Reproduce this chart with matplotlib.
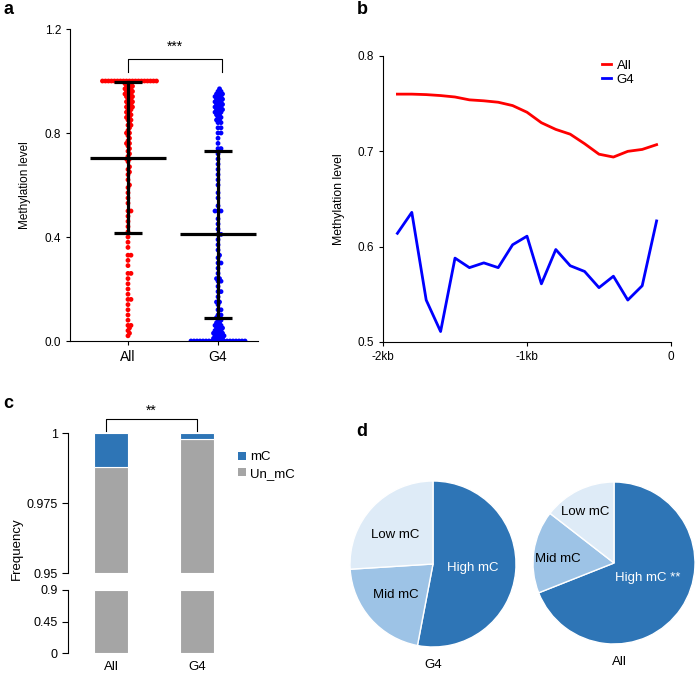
import numpy as np
import matplotlib
matplotlib.use("Agg")
import matplotlib.pyplot as plt
from matplotlib.patches import Patch

plt.rcParams['font.family'] = ['Liberation Sans', 'DejaVu Sans']
plt.rcParams['font.size'] = 9

# ---------------- data ----------------
# panel a : per-site methylation levels
all_vals = ([1.0] * 19 + [0.99] * 3 + [0.98] * 3 + [0.97] * 3 + [0.96] * 3 + [0.95] * 3 +
            [0.94] * 3 + [0.93] * 2 + [0.92] * 3 + [0.91] * 2 + [0.90] * 3 + [0.89] * 2 +
            [0.88] * 2 + [0.87] * 2 + [0.86] * 2 + [0.85] * 2 + [0.84, 0.83, 0.83, 0.82, 0.81,
            0.80, 0.80, 0.79, 0.78, 0.77, 0.76, 0.76, 0.75, 0.74, 0.73, 0.72, 0.71, 0.70, 0.70,
            0.69, 0.67, 0.66, 0.65, 0.64, 0.62, 0.60, 0.59, 0.57, 0.55, 0.53, 0.50, 0.50, 0.48,
            0.46, 0.44, 0.42, 0.40, 0.38, 0.36, 0.33, 0.33, 0.31, 0.29, 0.26, 0.26, 0.24, 0.22,
            0.20, 0.18, 0.16, 0.16, 0.14, 0.12, 0.10, 0.08, 0.06, 0.06, 0.05, 0.04, 0.03, 0.02])
g4_vals = ([0.0] * 19 + [0.01] * 4 + [0.02] * 4 + [0.03] * 4 + [0.04] * 3 + [0.05] * 3 +
           [0.06] * 3 + [0.07] * 2 + [0.08] * 2 + [0.09] * 2 + [0.10] * 2 + [0.12, 0.12, 0.14,
           0.15, 0.15, 0.17, 0.19, 0.19, 0.21, 0.23, 0.23, 0.24, 0.24, 0.26, 0.28, 0.30, 0.30,
           0.32, 0.33, 0.35, 0.37, 0.39, 0.41, 0.41, 0.43, 0.45, 0.47, 0.50, 0.50, 0.50, 0.52,
           0.55, 0.57, 0.60, 0.62, 0.64, 0.66, 0.68, 0.70, 0.72, 0.74, 0.74, 0.76, 0.78, 0.80,
           0.80, 0.82, 0.82, 0.84, 0.84] + [0.85] * 2 + [0.86] * 2 + [0.87] * 2 + [0.88] * 3 +
           [0.89] * 3 + [0.90] * 3 + [0.91] * 3 + [0.92] * 3 + [0.93] * 3 + [0.94] * 3 +
           [0.95] * 3 + [0.96] * 2 + [0.97])
a_categories = ['All', 'G4']
a_means = [0.705, 0.41]
a_sd = [0.29, 0.32]

# panel b : methylation profile upstream
b_pos_kb = [-1.9, -1.8, -1.7, -1.6, -1.5, -1.4, -1.3, -1.2, -1.1, -1.0,
            -0.9, -0.8, -0.7, -0.6, -0.5, -0.4, -0.3, -0.2, -0.1]
b_all = [0.760, 0.760, 0.7595, 0.7585, 0.757, 0.754, 0.753, 0.7515, 0.748, 0.741,
         0.730, 0.723, 0.718, 0.708, 0.697, 0.694, 0.700, 0.702, 0.707]
b_g4 = [0.614, 0.636, 0.544, 0.511, 0.588, 0.578, 0.583, 0.578, 0.602, 0.611,
        0.561, 0.597, 0.580, 0.574, 0.557, 0.569, 0.544, 0.559, 0.627]

# panel c : frequency
c_categories = ['All', 'G4']
c_unmc = [0.988, 0.998]
c_mc = [0.012, 0.002]

# panel d : pies
d_labels = ['High mC', 'Mid mC', 'Low mC']
d_g4 = [0.53, 0.21, 0.26]
d_all = [0.69, 0.165, 0.145]

W, H = 698, 674
fig = plt.figure(figsize=(W / 100, H / 100), dpi=100)


def rect(l, t, r, b):
    return [l / W, 1 - b / H, (r - l) / W, (b - t) / H]


def swarm(vals, d=3.0, ypx=260.0, xpx=90.0):
    vals = np.asarray(vals, float)
    order = np.argsort(vals, kind='stable')
    placed = []
    offs = np.zeros(len(vals))
    cands = [0.0]
    for j in range(1, 200):
        cands += [j * 0.5, -j * 0.5]
    for i in order:
        y = vals[i] * ypx
        for c in cands:
            ok = True
            for (px, py) in placed:
                if (px - c) ** 2 + (py - y) ** 2 < d * d:
                    ok = False
                    break
            if ok:
                placed.append((c, y))
                offs[i] = c / xpx
                break
    return offs


# ---------------- panel a ----------------
axa = fig.add_axes(rect(70, 29, 258, 341))
for k, (vals, col) in enumerate([(all_vals, '#FF0000'), (g4_vals, '#0000FF')]):
    offs = swarm(vals)
    axa.scatter(k + offs, vals, s=12, color=col, edgecolors='none', zorder=2)
    m, sd = a_means[k], a_sd[k]
    axa.plot([k - 0.42, k + 0.42], [m, m], color='black', lw=2.3, zorder=3, solid_capstyle='butt')
    axa.plot([k, k], [m - sd, min(m + sd, 1.2)], color='black', lw=2.3, zorder=3)
    for yv in (m - sd, m + sd):
        axa.plot([k - 0.16, k + 0.16], [yv, yv], color='black', lw=2.3, zorder=3, solid_capstyle='butt')
axa.set_xlim(-0.644, 1.444)
axa.set_ylim(0, 1.2)
axa.set_yticks([0, 0.4, 0.8, 1.2])
axa.set_yticklabels(['0.0', '0.4', '0.8', '1.2'], fontsize=8.5)
axa.set_xticks([0, 1])
axa.set_xticklabels(a_categories, fontsize=10)
axa.set_ylabel('Methylation level', fontsize=8.5, labelpad=10)
for s in ('top', 'right'):
    axa.spines[s].set_visible(False)
axa.tick_params(direction='out', length=3, width=0.8)
axa.plot([0, 0, 1.04, 1.04], [1.035, 1.085, 1.085, 1.035], color='black', lw=0.8, clip_on=False)
axa.text(0.52, 1.13, '***', ha='center', va='center', fontsize=10)

# ---------------- panel b ----------------
axb = fig.add_axes(rect(383, 56, 671, 342))
axb.plot(b_pos_kb, b_all, color='#FF0000', lw=2.0, label='All')
axb.plot(b_pos_kb, b_g4, color='#0000FF', lw=2.0, label='G4')
axb.set_xlim(-2, 0)
axb.set_ylim(0.5, 0.8)
axb.set_yticks([0.5, 0.6, 0.7, 0.8])
axb.set_xticks([-2, -1, 0])
axb.set_xticklabels(['-2kb', '-1kb', '0'])
axb.tick_params(labelsize=8.5)
axb.set_ylabel('Methylation level', fontsize=8.8, labelpad=9)
for s in ('top', 'right'):
    axb.spines[s].set_visible(False)
axb.tick_params(direction='out', length=3, width=0.8)
axb.legend(loc='upper left', bbox_to_anchor=(0.72, 1.03), frameon=False,
           handlelength=0.7, handletextpad=0.4, labelspacing=0.15, fontsize=9.5)

# ---------------- panel c ----------------
gray = '#A5A5A5'
blue = '#2E75B6'
bw = 0.395
axc1 = fig.add_axes(rect(68, 433, 236, 573))
axc2 = fig.add_axes(rect(68, 590, 236, 653))
x = np.arange(len(c_categories))
axc1.bar(x, np.array(c_unmc) - 0.95, bottom=0.95, width=bw, color=gray, edgecolor='white', lw=0.8)
axc1.bar(x, c_mc, bottom=c_unmc, width=bw, color=blue, edgecolor='white', lw=0.8)
axc2.bar(x, [0.9, 0.9], width=bw, color=gray, edgecolor='white', lw=0.8)
axc1.set_ylim(0.95, 1.0)
axc2.set_ylim(0, 0.9)
axc1.set_yticks([0.95, 0.975, 1.0])
axc1.set_yticklabels(['0.95', '0.975', '1'])
axc2.set_yticks([0, 0.45, 0.9])
axc2.set_yticklabels(['0', '0.45', '0.9'])
for a in (axc1, axc2):
    a.set_xlim(-0.5, 1.45)
    for s in ('top', 'right', 'bottom'):
        a.spines[s].set_visible(False)
    a.tick_params(direction='out', length=4, width=0.8)
    a.spines['left'].set_linewidth(0.8)
axc1.set_xticks([])
axc2.set_xticks(x)
axc2.set_xticklabels(c_categories, fontsize=9.5)
axc2.tick_params(axis='x', length=0, pad=6)
axc1.plot([-0.06, -0.06, 1.0, 1.0], [1.0007, 1.005, 1.005, 1.0007], color='black', lw=0.8, clip_on=False)
axc1.text(0.47, 1.0053, '**', ha='center', va='bottom', fontsize=10)
fig.text(17 / W, 1 - 549 / H, 'Frequency', rotation=90, ha='center', va='center', fontsize=9.5)
handles = [Patch(facecolor=blue, edgecolor='none', label='mC'),
           Patch(facecolor=gray, edgecolor='none', label='Un_mC')]
fig.legend(handles=handles, loc='upper left', bbox_to_anchor=(233 / W, 1 - 446 / H), frameon=False,
           handlelength=0.55, handleheight=0.55, handletextpad=0.35, labelspacing=0.35, fontsize=9.5,
           borderaxespad=0)

# ---------------- panel d ----------------
pie_cols = ['#2E75B6', '#9DC3E6', '#DEEBF7']
txt_cols = ['white', 'black', 'black']


def pie(cx, cy, r, vals, pos, title, tpos, stars):
    ax = fig.add_axes(rect(cx - r, cy - r, cx + r, cy + r))
    ax.pie(vals, colors=pie_cols, startangle=90, counterclock=False, radius=1,
           wedgeprops=dict(edgecolor='white', linewidth=1.0))
    ax.set_xlim(-1, 1)
    ax.set_ylim(-1, 1)
    ax.set_aspect('equal')
    for lab, p, tc, i in zip(d_labels, pos, txt_cols, range(3)):
        t = lab + (' **' if (i == 0 and stars) else '')
        ax.text(p[0], p[1], t, color=tc, ha='center', va='center', fontsize=9.5)
    ax.text(tpos[0], tpos[1], title, ha='center', va='center', fontsize=9.5, clip_on=False)


pie(433, 564, 83, d_g4, [(0.48, -0.05), (-0.45, -0.37), (-0.46, 0.35)], 'G4', (0.0, -1.22), False)
pie(614, 563, 81, d_all, [(0.41, -0.19), (-0.69, 0.05), (-0.36, 0.63)], 'All', (0.07, -1.22), True)

# panel letters
for lab, (px, py) in zip('abcd', [(8, 10), (362, 10), (8, 403), (362, 432)]):
    fig.text(px / W, 1 - py / H, lab, fontsize=13, fontweight='bold', ha='center', va='center')

fig.savefig('out.png', dpi=100)
